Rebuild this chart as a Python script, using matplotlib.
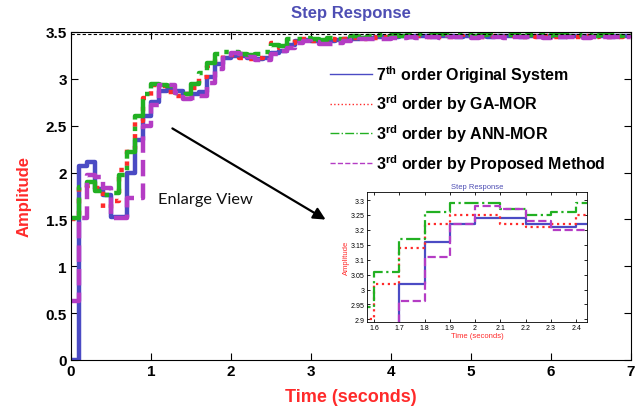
import numpy as np
import matplotlib
matplotlib.use("Agg")
import matplotlib.pyplot as plt
from matplotlib.lines import Line2D

plt.rcParams['font.family'] = ['Liberation Sans', 'DejaVu Sans']
plt.rcParams['mathtext.fontset'] = 'custom'
plt.rcParams['mathtext.rm'] = 'Liberation Sans:bold'
plt.rcParams['mathtext.bf'] = 'Liberation Sans:bold'

# sample times (s)
t = np.round(np.arange(0, 7.001, 0.1), 2)

original_7th = [0, 2.07, 2.11, 1.82, 1.76, 1.53, 1.53, 2.00, 2.35, 2.60,
                2.75, 2.87, 2.88, 2.87, 2.84, 2.84, 2.86, 3.02, 3.16, 3.22,
                3.24, 3.24, 3.22, 3.21, 3.22, 3.28, 3.30, 3.36, 3.40, 3.41,
                3.40, 3.39, 3.40, 3.41, 3.42, 3.43, 3.44, 3.44, 3.45, 3.45,
                3.45, 3.46, 3.45, 3.46, 3.46, 3.45, 3.46, 3.46, 3.45, 3.46,
                3.46, 3.46, 3.45, 3.46, 3.46, 3.46, 3.45, 3.46, 3.46, 3.46,
                3.46, 3.45, 3.46, 3.46, 3.46, 3.46, 3.46, 3.45, 3.46, 3.46, 3.46]
ga_mor = [1.50, 1.84, 1.86, 1.84, 1.62, 1.70, 2.03, 2.25, 2.55, 2.80,
          2.93, 2.92, 2.86, 2.82, 2.84, 2.90, 3.02, 3.14, 3.22, 3.25,
          3.25, 3.22, 3.21, 3.22, 3.25, 3.38, 3.33, 3.38, 3.42, 3.42,
          3.40, 3.40, 3.42, 3.41, 3.43, 3.44, 3.43, 3.45, 3.44, 3.45,
          3.46, 3.45, 3.45, 3.46, 3.45, 3.46, 3.45, 3.45, 3.46, 3.45,
          3.46, 3.45, 3.46, 3.45, 3.45, 3.46, 3.45, 3.46, 3.45, 3.46,
          3.45, 3.45, 3.46, 3.45, 3.46, 3.45, 3.46, 3.45, 3.45, 3.46, 3.45]
ann_mor = [1.52, 1.85, 1.90, 1.80, 1.76, 1.78, 1.97, 2.22, 2.60, 2.84,
           2.95, 2.93, 2.92, 2.85, 2.84, 2.94, 3.06, 3.17, 3.26, 3.29,
           3.29, 3.27, 3.25, 3.26, 3.29, 3.36, 3.35, 3.42, 3.43, 3.44,
           3.42, 3.41, 3.44, 3.43, 3.45, 3.46, 3.44, 3.46, 3.47, 3.45,
           3.47, 3.46, 3.47, 3.48, 3.46, 3.47, 3.48, 3.46, 3.47, 3.48,
           3.46, 3.47, 3.48, 3.46, 3.47, 3.48, 3.46, 3.47, 3.48, 3.46,
           3.47, 3.48, 3.46, 3.47, 3.48, 3.46, 3.47, 3.48, 3.46, 3.47, 3.48]
proposed = [0.63, 1.52, 1.97, 1.95, 1.84, 1.51, 1.51, 1.73, 1.73, 2.50,
            2.72, 2.93, 2.93, 2.85, 2.78, 2.80, 2.82, 2.96, 3.11, 3.22,
            3.28, 3.27, 3.23, 3.20, 3.20, 3.26, 3.30, 3.33, 3.38, 3.40,
            3.39, 3.37, 3.37, 3.38, 3.40, 3.41, 3.42, 3.42, 3.43, 3.43,
            3.44, 3.44, 3.45, 3.44, 3.45, 3.45, 3.44, 3.45, 3.45, 3.45,
            3.44, 3.45, 3.45, 3.45, 3.44, 3.45, 3.45, 3.45, 3.45, 3.44,
            3.45, 3.45, 3.45, 3.45, 3.44, 3.45, 3.45, 3.45, 3.45, 3.45, 3.44]
steady_state = 3.475

labels = [r'7$^{\rm th}$ order Original System',
          r'3$^{\rm rd}$ order by GA-MOR',
          r'3$^{\rm rd}$ order by ANN-MOR',
          r'3$^{\rm rd}$ order by Proposed Method']
colors = ['#4b4bc4', '#ff2a2a', '#22b022', '#b43cc4']
styles = ['-', ':', '-.', '--']
series = [original_7th, ga_mor, ann_mor, proposed]

x_ticks = [0, 1, 2, 3, 4, 5, 6, 7]
y_ticks = [0, 0.5, 1, 1.5, 2, 2.5, 3, 3.5]
y_tick_labels = ['0', '0.5', '1', '1.5', '2', '2.5', '3', '3.5']
in_x_ticks = [1.6, 1.7, 1.8, 1.9, 2.0, 2.1, 2.2, 2.3, 2.4]
in_x_labels = ['1.6', '1.7', '1.8', '1.9', '2', '2.1', '2.2', '2.3', '2.4']
in_y_ticks = [2.9, 2.95, 3.0, 3.05, 3.1, 3.15, 3.2, 3.25, 3.3]
in_y_labels = ['2.9', '2.95', '3', '3.05', '3.1', '3.15', '3.2', '3.25', '3.3']

fig = plt.figure(figsize=(6.4, 4.1), dpi=100)
ax = fig.add_axes([71/640, 1-361/410, 560/640, 328/410])

for y, c, ls in zip(series, colors, styles):
    ax.step(t, y, where='post', color=c, ls=ls, lw=3.2)
ax.axhline(steady_state, color='k', ls=(0, (3, 2)), lw=0.8)

ax.set_xlim(0, 7)
ax.set_ylim(0, 3.5)
ax.set_xticks(x_ticks)
ax.set_yticks(y_ticks)
ax.set_yticklabels(y_tick_labels)
ax.tick_params(direction='in', top=True, right=True, length=5, width=0.8,
               labelsize=11, pad=3)
for lab in ax.get_xticklabels() + ax.get_yticklabels():
    lab.set_fontweight('bold')
ax.set_title('Step Response', color='#4e4eb4', fontsize=12, fontweight='bold', pad=11)
ax.set_xlabel('Time (seconds)', color='#ff2a2a', fontsize=13, fontweight='bold', labelpad=7)
ax.set_ylabel('Amplitude', color='#ff2a2a', fontsize=12, fontweight='bold', labelpad=10)

handles = [Line2D([], [], color=c, ls=ls, lw=1.0) for c, ls in zip(colors, styles)]
leg = fig.legend(handles, labels, loc='upper left', bbox_to_anchor=(330/640, 1-64/410),
                 bbox_transform=fig.transFigure, frameon=False, borderpad=0,
                 borderaxespad=0, prop={'weight': 'bold', 'size': 11.5},
                 handlelength=2.6, handletextpad=0.25, labelspacing=0.5)

ax.annotate('', xy=(328, 410-222), xycoords='figure pixels',
            xytext=(170, 410-128), textcoords='figure pixels',
            arrowprops=dict(arrowstyle='-|>', color='k', lw=1.6,
                            mutation_scale=18))
fig.text(158/640, 1-200/410, 'Enlarge View', fontsize=11.8, family=['Lato', 'DejaVu Sans'],
         va='center', ha='left', color='#111111')

# inset
ins = fig.add_axes([367/640, 1-323/410, 220/640, 130/410])
for y, c, ls in zip(series, colors, styles):
    ins.step(t, y, where='post', color=c, ls=ls, lw=1.6)
ins.set_xlim(1.572, 2.443)
ins.set_ylim(2.891, 3.327)
ins.set_xticks(in_x_ticks)
ins.set_xticklabels(in_x_labels)
ins.set_yticks(in_y_ticks)
ins.set_yticklabels(in_y_labels)
ins.tick_params(direction='in', top=True, right=True, length=2.5, width=0.6,
                labelsize=5, pad=1.5)
ins.set_title('Step Response', color='#4e4eb4', fontsize=5.5, pad=3)
ins.set_xlabel('Time (seconds)', color='#ff2a2a', fontsize=5.5, labelpad=1)
ins.set_ylabel('Amplitude', color='#ff2a2a', fontsize=5.5, labelpad=1)
for s in ins.spines.values():
    s.set_linewidth(0.6)

fig.savefig('out.png', dpi=100)
